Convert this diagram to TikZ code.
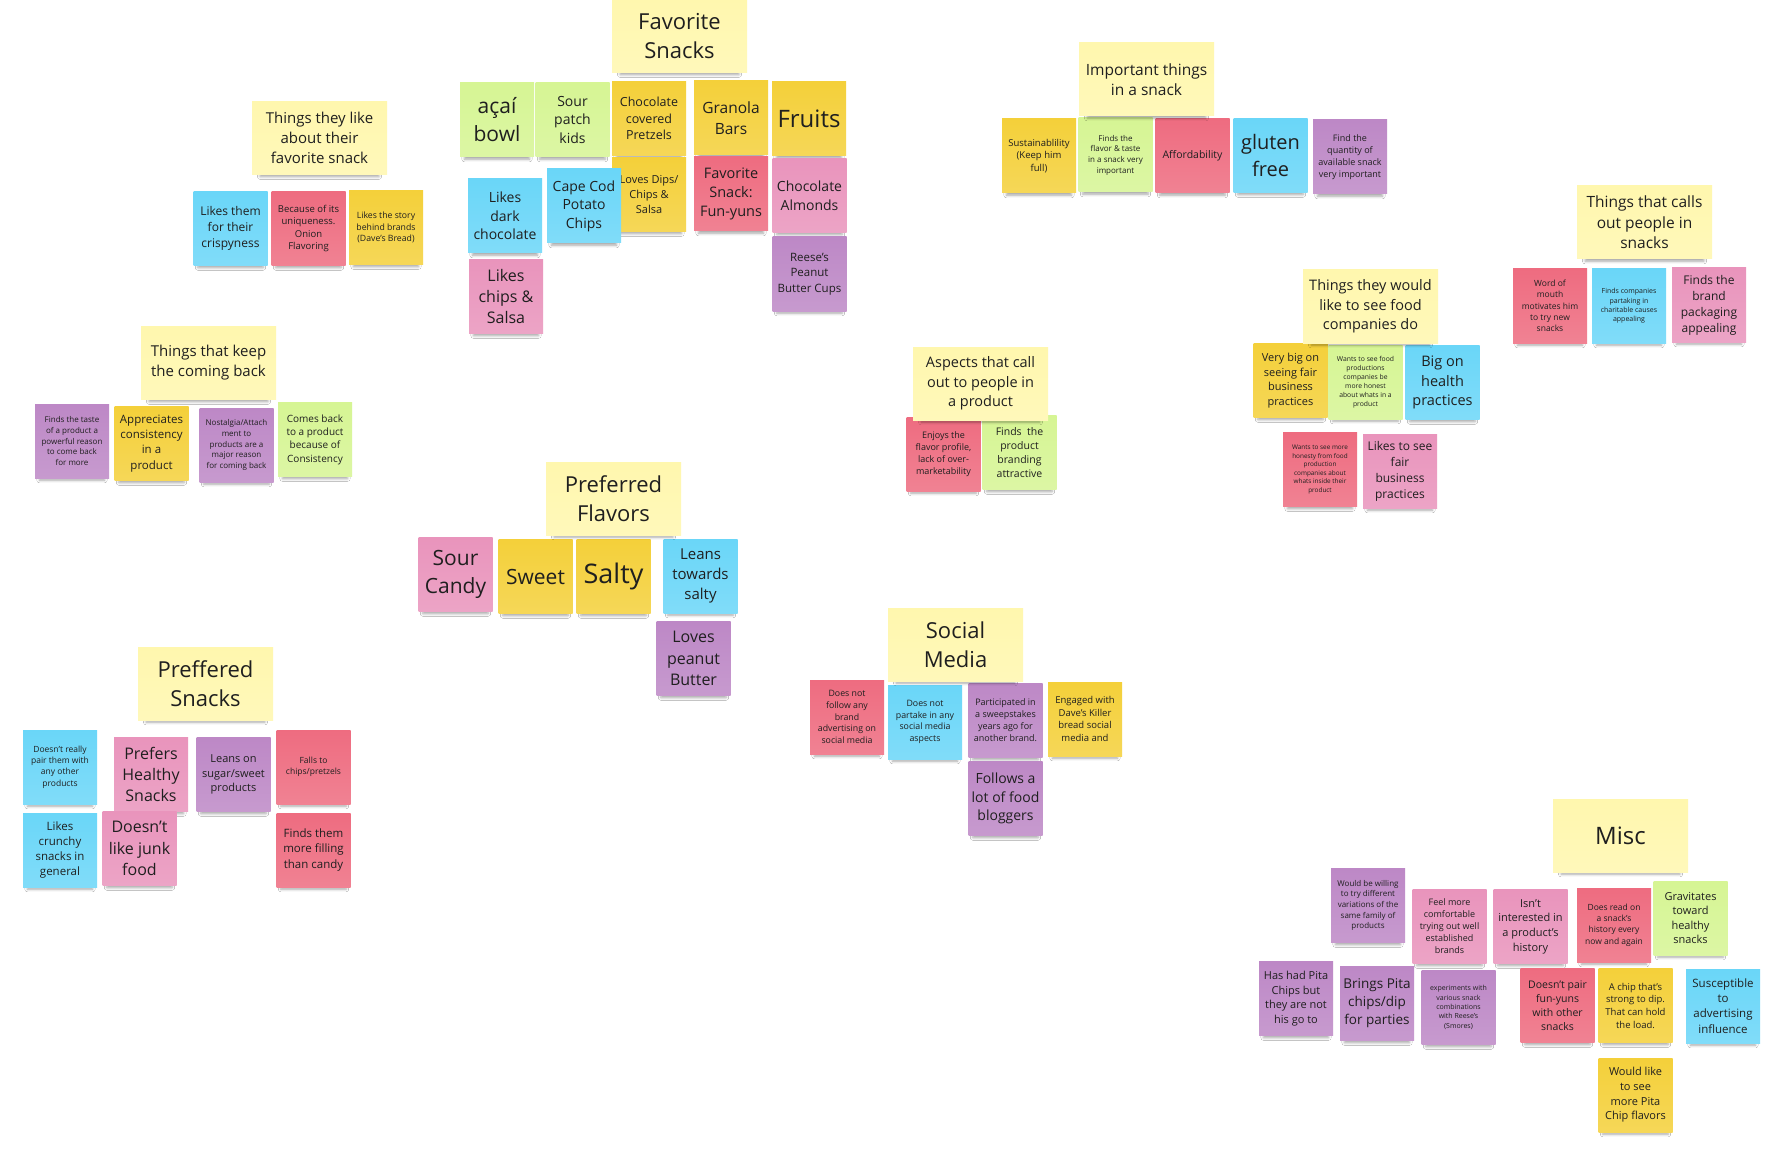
\documentclass[tikz,border=0pt]{standalone}
\usepackage{fontspec}
\setmainfont{Open Sans}
\usetikzlibrary{shadows.blur}

% sticky note colours
\definecolor{ttlyellow}{HTML}{FFF7AE}
\definecolor{stkyellow}{HTML}{F4D03A}
\definecolor{stkgreen}{HTML}{D6F594}
\definecolor{stkblue}{HTML}{6AD6F8}
\definecolor{stkred}{HTML}{EE6C80}
\definecolor{stkpink}{HTML}{E994BC}
\definecolor{stkpurple}{HTML}{BD88C6}

\newcommand\fsz[1]{\fontsize{#1}{\fpeval{1.33*#1}}\selectfont}

\tikzset{
  stickynote/.style={rectangle, minimum width=74pt, minimum height=74pt,
    inner sep=1pt, align=center, text=black!88,
    blur shadow={shadow xshift=0pt, shadow yshift=-7.5pt, shadow scale=0.88,
      shadow blur radius=3pt, shadow opacity=35}},
  notefill/.style={stickynote, top color=#1, bottom color=#1!85!white},
  yellownote/.style={notefill=stkyellow},
  greennote/.style={notefill=stkgreen},
  bluenote/.style={notefill=stkblue},
  rednote/.style={notefill=stkred},
  pinknote/.style={notefill=stkpink},
  purplenote/.style={notefill=stkpurple},
  titlenote/.style={notefill=ttlyellow, minimum width=135pt, minimum height=73pt}
}

\begin{document}
\begin{tikzpicture}[x=1pt, y=-1pt]
  \fill[white] (0,0) rectangle (1790,1150);
  \useasboundingbox (0,0) rectangle (1790,1150);

  % Things they like about their favorite snack
  \node[bluenote, font=\fsz{12}] (likeA) at (230.5,228.5) {Likes them\\for their\\crispyness};
  \node[rednote, font=\fsz{9.5}] (likeB) at (308.5,228.5) {Because of its\\uniqueness.\\Onion\\Flavoring};
  \node[yellownote, font=\fsz{8.7}] (likeC) at (386,227.5) {Likes the story\\behind brands\\(Dave's Bread)};
  \node[titlenote, font=\fsz{15}] (likeT) at (319.5,138) {Things they like\\about their\\favorite snack};

  % Favorite Snacks
  \node[greennote, font=\fsz{21}] (acai) at (497,120) {açaí\\bowl};
  \node[greennote, font=\fsz{14}] (sour) at (572.5,120) {Sour\\patch\\kids};
  \node[yellownote, font=\fsz{12.5}] (chocpretz) at (649,118.5) {Chocolate\\covered\\Pretzels};
  \node[yellownote, font=\fsz{15.5}] (granola) at (731,118) {Granola\\Bars};
  \node[yellownote, font=\fsz{24}] (fruits) at (809,119) {Fruits};
  \node[yellownote, font=\fsz{11}] (dips) at (649,194.5) {Loves Dips/\\Chips \&\\Salsa};
  \node[bluenote, font=\fsz{14}] (darkchoc) at (505,216) {Likes\\dark\\chocolate};
  \node[pinknote, font=\fsz{16}] (chipsalsa) at (506,296.5) {Likes\\chips \&\\Salsa};
  \node[bluenote, font=\fsz{14}] (capecod) at (584,206) {Cape Cod\\Potato\\Chips};
  \node[rednote, font=\fsz{14.5}] (funyuns) at (731,194) {Favorite\\Snack:\\Fun-yuns};
  \node[pinknote, font=\fsz{14}] (almonds) at (809.5,195.5) {Chocolate\\Almonds};
  \node[purplenote, font=\fsz{11.5}] (reeses) at (809.5,274) {Reese's\\Peanut\\Butter Cups};
  \node[titlenote, font=\fsz{22}] (favT) at (679.5,36) {Favorite\\Snacks};

  % Important things in a snack
  \node[yellownote, font=\fsz{9.5}] (sust) at (1039,156) {Sustainablility\\(Keep him\\full)};
  \node[greennote, font=\fsz{8}] (flavor) at (1115.5,155) {Finds the\\flavor \& taste\\in a snack very\\important};
  \node[rednote, font=\fsz{10.5}] (afford) at (1192.5,156) {Affordability};
  \node[bluenote, font=\fsz{20}] (gluten) at (1270.5,155.5) {gluten\\free};
  \node[purplenote, font=\fsz{9}] (quantity) at (1350,157) {Find the\\quantity of\\available snack\\very important};
  \node[titlenote, font=\fsz{15.5}] (impT) at (1146.5,79.5) {Important things\\in a snack};

  % Things that calls out people in snacks
  \node[rednote, font=\fsz{8.5}] (mouth) at (1550,306) {Word of\\mouth\\motivates him\\to try new\\snacks};
  \node[bluenote, font=\fsz{7}] (charity) at (1629,306) {Finds companies\\partaking in\\charitable causes\\appealing};
  \node[pinknote, font=\fsz{12}] (packaging) at (1709,305) {Finds the\\brand\\packaging\\appealing};
  \node[titlenote, font=\fsz{15.5}] (callT) at (1644.5,222.5) {Things that calls\\out people in\\snacks};

  % Things they would like to see food companies do
  \node[yellownote, font=\fsz{11}] (fairbig) at (1290.5,380.5) {Very big on\\seeing fair\\business\\practices};
  \node[greennote, font=\fsz{6.8}] (honest) at (1365.5,382) {Wants to see food\\productions\\companies be\\more honest\\about whats in a\\product};
  \node[bluenote, font=\fsz{14.5}] (health) at (1442.5,382.5) {Big on\\health\\practices};
  \node[rednote, font=\fsz{6.4}] (honesty) at (1320,469.5) {Wants to see more\\honesty from food\\production\\companies about\\whats inside their\\product};
  \node[pinknote, font=\fsz{12}] (fairsee) at (1400,471) {Likes to see\\fair\\business\\practices};
  \node[titlenote, font=\fsz{14.5}] (wouldT) at (1370.5,306.5) {Things they would\\like to see food\\companies do};

  % Things that keep the coming back
  \node[purplenote, font=\fsz{8}] (taste) at (72,441) {Finds the taste\\of a product a\\powerful reason\\to come back\\for more};
  \node[yellownote, font=\fsz{11.5}] (consist) at (151.5,443.5) {Appreciates\\consistency\\in a\\product};
  \node[purplenote, font=\fsz{8}] (nostalgia) at (236.5,445) {Nostalgia/Attach\\ment to\\products are a\\major reason\\for coming back};
  \node[greennote, font=\fsz{10}] (comesback) at (315,439.5) {Comes back\\to a product\\because of\\Consistency};
  \node[titlenote, font=\fsz{15}] (backT) at (208.5,363) {Things that keep\\the coming back};

  % Aspects that call out to people in a product
  \node[rednote, font=\fsz{9}] (profile) at (943.5,454) {Enjoys the\\flavor profile,\\lack of over-\\marketability};
  \node[greennote, font=\fsz{10.5}] (branding) at (1019.5,452.5) {Finds\ \ the\\product\\branding\\attractive};
  \node[titlenote, font=\fsz{14.5}] (aspT) at (980.5,383.5) {Aspects that call\\out to people in\\a product};

  % Preferred Flavors
  \node[pinknote, font=\fsz{21}] (sourcandy) at (455.5,574.5) {Sour\\Candy};
  \node[yellownote, font=\fsz{21}] (sweet) at (535.5,576.5) {Sweet};
  \node[yellownote, font=\fsz{27}] (salty) at (613.5,576.5) {Salty};
  \node[bluenote, font=\fsz{15}] (leans) at (700.5,576) {Leans\\towards\\salty};
  \node[purplenote, font=\fsz{16}] (peanut) at (693.5,658.5) {Loves\\peanut\\Butter};
  \node[titlenote, font=\fsz{22}] (flavT) at (613.5,498.5) {Preferred\\Flavors};

  % Preffered Snacks
  \node[bluenote, font=\fsz{8.5}] (pair) at (60,767) {Doesn't really\\pair them with\\any other\\products};
  \node[pinknote, font=\fsz{16}] (healthy) at (151,774.5) {Prefers\\Healthy\\Snacks};
  \node[purplenote, font=\fsz{11}] (sugar) at (233.5,774.5) {Leans on\\sugar/sweet\\products};
  \node[rednote, font=\fsz{8.5}] (falls) at (313.5,767) {Falls to\\chips/pretzels};
  \node[bluenote, font=\fsz{11.5}] (crunchy) at (60,850) {Likes\\crunchy\\snacks in\\general};
  \node[pinknote, font=\fsz{16}] (junk) at (139.5,848.5) {Doesn't\\like junk\\food};
  \node[rednote, font=\fsz{11.5}] (filling) at (313.5,850) {Finds them\\more filling\\than candy};
  \node[titlenote, font=\fsz{22}] (psnT) at (205.5,683.5) {Preffered\\Snacks};

  % Social Media
  \node[rednote, font=\fsz{8.8}] (nofollow) at (847,717) {Does not\\follow any\\brand\\advertising on\\social media};
  \node[bluenote, font=\fsz{8.8}] (nopartake) at (925,722) {Does not\\partake in any\\social media\\aspects};
  \node[purplenote, font=\fsz{9}] (sweep) at (1005.5,720.5) {Participated in\\a sweepstakes\\years ago for\\another brand.};
  \node[yellownote, font=\fsz{9.5}] (daves) at (1085,719) {Engaged with\\Dave's Killer\\bread social\\media and};
  \node[purplenote, font=\fsz{14}] (bloggers) at (1005.5,798.5) {Follows a\\lot of food\\bloggers};
  \node[titlenote, font=\fsz{22}] (socT) at (955.5,644.5) {Social\\Media};

  % Misc
  \node[purplenote, font=\fsz{8}] (willing) at (1368,905.5) {Would be willing\\to try different\\variations of the\\same family of\\products};
  \node[pinknote, font=\fsz{9}] (comfort) at (1449.5,926.5) {Feel more\\comfortable\\trying out well\\established\\brands};
  \node[pinknote, font=\fsz{11}] (history) at (1530.5,926.5) {Isn't\\interested in\\a product's\\history};
  \node[rednote, font=\fsz{8.5}] (readon) at (1614,925) {Does read on\\a snack's\\history every\\now and again};
  \node[greennote, font=\fsz{11}] (gravit) at (1690.5,918) {Gravitates\\toward\\healthy\\snacks};
  \node[purplenote, font=\fsz{11}] (hadpita) at (1296,998.5) {Has had Pita\\Chips but\\they are not\\his go to};
  \node[purplenote, font=\fsz{13.5}] (brings) at (1377,1003.5) {Brings Pita\\chips/dip\\for parties};
  \node[purplenote, font=\fsz{7}] (experiments) at (1458.5,1007.5) {experiments with\\various snack\\combinations\\with Reese's\\(Smores)};
  \node[rednote, font=\fsz{10.5}] (pairfun) at (1557.5,1005.5) {Doesn't pair\\fun-yuns\\with other\\snacks};
  \node[yellownote, font=\fsz{9.5}] (chipdip) at (1635.5,1005.5) {A chip that's\\strong to dip.\\That can hold\\the load.};
  \node[bluenote, font=\fsz{11.5}] (suscept) at (1723,1006) {Susceptible\\to\\advertising\\influence};
  \node[yellownote, font=\fsz{11}] (morepita) at (1635.5,1095) {Would like\\to see\\more Pita\\Chip flavors};
  \node[titlenote, font=\fsz{24}] (miscT) at (1620.5,835.5) {Misc};
\end{tikzpicture}
\end{document}
